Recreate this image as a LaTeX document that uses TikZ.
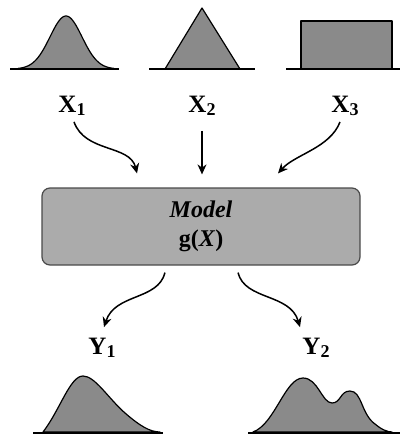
\documentclass[tikz,border=0pt]{standalone}
\usepackage{fontspec}
\setmainfont{Liberation Serif}
\usetikzlibrary{arrows.meta,calc}
\definecolor{distfill}{HTML}{8A8A8A}
\definecolor{boxfill}{HTML}{ABABAB}
\definecolor{boxedge}{HTML}{4A4A4A}
\tikzset{
  dist/.style={fill=distfill,draw=black,line width=1.2pt,line join=round},
  axis/.style={draw=black,line width=1.5pt},
  lab/.style={font=\fontsize{25}{29}\selectfont\bfseries,inner sep=0pt},
  arr/.style={draw=black,line width=1.5pt,-{Stealth[length=10pt,width=9pt]}},
  modelbox/.style={draw=boxedge,fill=boxfill,line width=1.2pt,rounded corners=8pt,
    minimum width=318pt,minimum height=77pt,align=center,
    font=\fontsize{24}{29}\selectfont\bfseries}
}
\newcommand{\sbs}[1]{\raisebox{-3pt}{\fontsize{18}{18}\selectfont #1}}
\begin{document}
\begin{tikzpicture}[x=1pt,y=-1pt]
\useasboundingbox (0,0) rectangle (400,436);
% top distributions
\fill[distfill] plot[domain=18:114,samples=80,smooth] (\x,{69-53*exp(-((\x-66)/16)^2/2)}) -- cycle;
\draw[line width=1.2pt] plot[domain=18:114,samples=80,smooth] (\x,{69-53*exp(-((\x-66)/16)^2/2)});
\draw[axis] (10,69) -- (119,69);
\draw[dist] (165,69) -- (202,8) -- (240,69) -- cycle;
\draw[axis] (149,69) -- (255,69);
\draw[dist] (301,69) rectangle (392,21);
\draw[axis] (286,69) -- (400,69);
% labels
\node[lab] (x1) at (72,106) {X\sbs{1}};
\node[lab] (x2) at (202,106) {X\sbs{2}};
\node[lab] (x3) at (345,106) {X\sbs{3}};
% model
\node[modelbox] (model) at (201,226.5) {\textit{Model}\\g(\textit{X})};
\coordinate (e1) at ($(model.north)+(-64,-14)$);
\coordinate (e2) at ($(model.north)+(1,-13)$);
\coordinate (e3) at ($(model.north)+(77,-14)$);
\coordinate (s1) at ($(x1.south)+(2,6)$);
\coordinate (s2) at ($(x2.south)+(0,15)$);
\coordinate (s3) at ($(x3.south)+(-5,6)$);
\draw[arr] (s1) .. controls +(11,31) and +(-7,-29) .. (e1);
\draw[arr] (s2) -- (e2);
\draw[arr] (s3) .. controls +(-10,26) and +(17,-19) .. (e3);
% outputs
\node[lab] (y1) at (102,348) {Y\sbs{1}};
\node[lab] (y2) at (316,348) {Y\sbs{2}};
\coordinate (o1) at ($(model.south)+(-36,7)$);
\coordinate (o2) at ($(model.south)+(37,7)$);
\coordinate (t1) at ($(y1.north)+(2,-11)$);
\coordinate (t2) at ($(y2.north)+(-16,-11)$);
\draw[arr] (o1) .. controls +(-7,28) and +(11,-34) .. (t1);
\draw[arr] (o2) .. controls +(7,28) and +(-10,-34) .. (t2);
% bottom distributions
\draw[dist] (43,432) .. controls (60,410) and (70,376) .. (83,376)
  .. controls (95,376) and (108,398) .. (125,413)
  .. controls (140,426) and (150,432) .. (160,432) -- cycle;
\draw[axis] (33,433) -- (163,433);
\draw[dist] (253,432) .. controls (275,424) and (285,378) .. (303,378)
  .. controls (318,378) and (322,403) .. (332,403)
  .. controls (341,403) and (340,391) .. (350,391)
  .. controls (362,391) and (361,414) .. (375,424)
  .. controls (382,430) and (388,432) .. (392,432) -- cycle;
\draw[axis] (248,433) -- (400,433);
\end{tikzpicture}
\end{document}
